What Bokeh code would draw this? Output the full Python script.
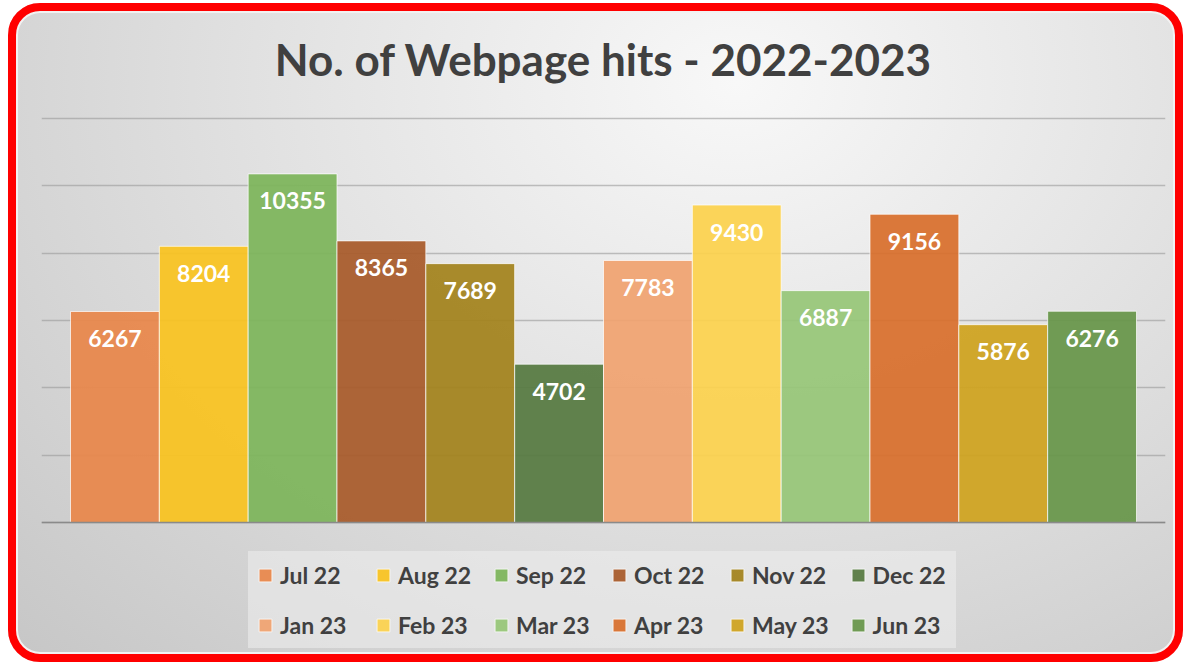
from bokeh.plotting import figure
from bokeh.models import (ColumnDataSource, FactorRange, Range1d, Legend, LegendItem,
                          FixedTicker, Span, Label)
from bokeh.core.properties import value
from bokeh.embed import file_html
from bokeh.resources import INLINE

months = ["Jul 22", "Aug 22", "Sep 22", "Oct 22", "Nov 22", "Dec 22",
          "Jan 23", "Feb 23", "Mar 23", "Apr 23", "May 23", "Jun 23"]
hits = [6267, 8204, 10355, 8365, 7689, 4702, 7783, 9430, 6887, 9156, 5876, 6276]
colors = ["#E8874A", "#F9C31F", "#7DB55A", "#A85A2A", "#A3821C", "#567A41",
          "#F0A370", "#FCD24E", "#97C677", "#D86F2C", "#CFA21E", "#679649"]
y_ticks = [0, 2000, 4000, 6000, 8000, 10000, 12000]
title_text = "No. of Webpage hits - 2022-2023"

FONT = "Lato"

# layout (canvas pixels): frame covers the card; value axis between TOP_PX and ZERO_PX
W, H = 1175, 659
BORDER_L, BORDER_R = 33, 18
FRAME_TOP_PX, TOP_PX, ZERO_PX, BOTTOM_PX = 0, 115, 519, 650
TITLE_CY = 55
y_top = y_ticks[-1]
ppu = (ZERO_PX - TOP_PX) / y_top
y_min = -(BOTTOM_PX - ZERO_PX) / ppu
y_max = y_top + (TOP_PX - FRAME_TOP_PX) / ppu

source = ColumnDataSource(dict(month=months, hits=hits, color=colors,
                               label=[str(v) for v in hits]))

p = figure(width=W, height=H, output_backend="svg", toolbar_location=None,
           title=None,
           x_range=FactorRange(factors=months, range_padding=0.3265,
                               range_padding_units="absolute"),
           y_range=Range1d(y_min, y_max),
           min_border_left=BORDER_L, min_border_right=BORDER_R,
           min_border_top=FRAME_TOP_PX, min_border_bottom=H - BOTTOM_PX)

p.styles = {
    "margin-left": "8px",
    "margin-top": "3px",
    "outline": "8px solid #ff0000",
    "outline-offset": "-8px",
    "border-radius": "32px",
    "overflow": "hidden",
    "background": "radial-gradient(ellipse farthest-corner at 62% 12%, #f8f8f8 0%, #e2e2e2 45%, #c6c6c6 100%)",
    "box-shadow": "inset 0 0 0 10px #f2f2f2",
}
p.border_fill_alpha = 0
p.background_fill_alpha = 0
p.outline_line_color = None

# title (inside the frame, frame-relative screen units)
frame_w = W - BORDER_L - BORDER_R
p.add_layout(Label(x=frame_w / 2, y=BOTTOM_PX - TITLE_CY, x_units="screen",
                   y_units="screen", text=title_text, text_align="center",
                   text_baseline="middle", text_font=FONT,
                   text_font_style="bold", text_font_size="44px",
                   text_color="#404040"))

# grid & axes
p.yaxis.visible = False
p.xaxis.visible = False
p.xgrid.visible = False
p.ygrid.ticker = FixedTicker(ticks=y_ticks)
p.ygrid.grid_line_color = "#9a9a9a"
p.ygrid.grid_line_alpha = 0.6
p.ygrid.grid_line_width = 1.5
p.add_layout(Span(location=0, dimension="width", line_color="#8a8a8a",
                  line_width=1.5))

r = p.vbar(x="month", top="hits", bottom=0, width=1.0, source=source,
           fill_color="color", fill_alpha=0.93, line_color="white",
           line_alpha=0.7, line_width=1)

p.text(x="month", y="hits", text="label", source=source, text_align="center",
       text_baseline="middle", y_offset=27, text_color="white",
       text_font=value(FONT), text_font_style="bold", text_font_size="23px")

items = [LegendItem(label=m, renderers=[r], index=i) for i, m in enumerate(months)]
legend = Legend(items=items, orientation="horizontal", ncols=6,
                location=(207, 5))
legend.label_text_font = FONT
legend.label_text_font_style = "bold"
legend.label_text_font_size = "23px"
legend.label_text_color = "#404040"
legend.label_standoff = 7
legend.label_height = 29
legend.label_width = 74
legend.glyph_width = 16
legend.glyph_height = 16
legend.spacing = 21
legend.padding = 9
legend.margin = 0
legend.background_fill_color = "#ededed"
legend.background_fill_alpha = 0.6
legend.border_line_alpha = 0
p.add_layout(legend, "center")

open("out.html", "w").write(file_html(p, INLINE))
